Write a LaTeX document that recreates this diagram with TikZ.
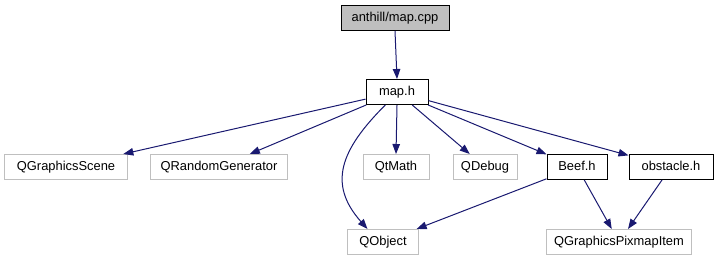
\documentclass[tikz,border=0pt]{standalone}
\usepackage{fontspec}
\setmainfont{Liberation Sans}
\usetikzlibrary{arrows.meta}
\definecolor{edgeblue}{HTML}{191970}
\definecolor{extgrey}{HTML}{BFBFBF}

\begin{document}
\begin{tikzpicture}[x=1bp, y=-1bp, >={Triangle[length=10bp, width=7.5bp]},
    every node/.style={font=\fontsize{12.9bp}{15bp}\selectfont}]
  \tikzstyle{file}=[draw=black, line width=1bp, minimum height=25bp, inner xsep=4bp, inner ysep=0pt, text height=9.5bp, text depth=2.5bp]
  \tikzstyle{ext}=[file, draw=extgrey]
  \tikzstyle{edge}=[->, draw=edgeblue, line width=1bp]
  \useasboundingbox (0,0) rectangle (718,261);
  % top: the source file and its header
  \node[file, fill=extgrey, minimum width=108bp] (mapcpp) at (395,18) {anthill/map.cpp};
  \node[file, minimum width=62bp] (maph) at (397,92) {map.h};
  % what map.h pulls in
  \node[ext, minimum width=122bp] (scene)  at (66,167)  {QGraphicsScene};
  \node[ext, minimum width=137bp] (random) at (219,167) {QRandomGenerator};
  \node[ext, minimum width=66bp]  (qtmath) at (396,167) {QtMath};
  \node[ext, minimum width=64bp]  (qdebug) at (485,167) {QDebug};
  \node[file, minimum width=60bp] (beef)   at (577,167) {Beef.h};
  \node[file, minimum width=84bp] (obst)   at (671,167) {obstacle.h};
  % bottom row
  \node[ext, minimum width=71bp]  (qobject) at (383,242) {QObject};
  \node[ext, minimum width=145bp] (pixmap)  at (619,242) {QGraphicsPixmapItem};
  \draw[edge] (mapcpp.south) -- (maph.north);
  \foreach \j in {scene,random,qdebug,beef,obst}{
    \draw[edge] (maph) -- (\j);
  }
  \draw[edge] (maph.south) -- (qtmath.north);
  \draw[edge] (maph.228) .. controls +(-45,45) and +(-40,-45) .. (qobject.140);
  \draw[edge] (beef) -- (qobject);
  \foreach \i in {beef,obst}{
    \draw[edge] (\i) -- (pixmap);
  }
\end{tikzpicture}
\end{document}
